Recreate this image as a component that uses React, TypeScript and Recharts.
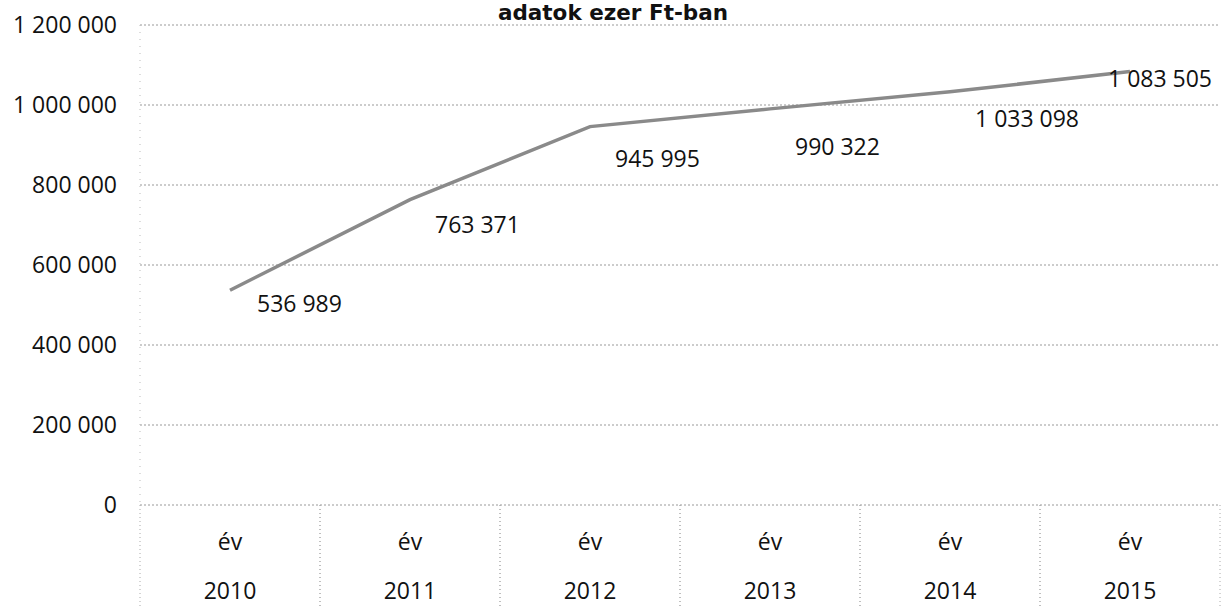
import React from 'react';
import { LineChart, Line, XAxis, YAxis, CartesianGrid, LabelList } from 'recharts';

const years = ['2010', '2011', '2012', '2013', '2014', '2015'];
const rowLabel = 'év';
const values = [536989, 763371, 945995, 990322, 1033098, 1083505];
const yTicks = [0, 200000, 400000, 600000, 800000, 1000000, 1200000];
const title = 'adatok ezer Ft-ban';

const data = years.map((y, i) => ({ year: y, value: values[i] }));

const W = 1221;
const H = 607;
const LEFT = 140;
const RIGHT = 1;
const FONT = '"Open Sans", sans-serif';
const FS = 23;

// label placement offsets (style), per point: [dx, dy]
const labelOffsets: [number, number][] = [
  [27, 22],
  [25, 33],
  [25, 40],
  [25, 46],
  [25, 35],
  [-22, 15],
];

const fmt = (v: number) => String(v).replace(/\B(?=(\d{3})+(?!\d))/g, ' ');

const bandW = (W - LEFT - RIGHT) / years.length;

const XTick = (props: any) => {
  const { x, y, payload } = props;
  const sep = { stroke: '#aaa', strokeWidth: 1, strokeDasharray: '1 3' };
  return (
    <g>
      <line x1={x - bandW / 2} x2={x - bandW / 2} y1={y} y2={H} {...sep} />
      <line x1={x + bandW / 2} x2={x + bandW / 2} y1={y} y2={H} {...sep} />
      <text x={x} y={y + 45} textAnchor="middle" fontFamily={FONT} fontSize={FS} fill="#111">
        {rowLabel}
      </text>
      <text x={x} y={y + 94} textAnchor="middle" fontFamily={FONT} fontSize={FS} fill="#111">
        {payload.value}
      </text>
    </g>
  );
};

const ValueLabel = (props: any) => {
  const { x, y, value, index } = props;
  const [dx, dy] = labelOffsets[index] || [0, 0];
  return (
    <text x={x + dx} y={y + dy} textAnchor="start" fontFamily={FONT} fontSize={FS} fill="#111">
      {fmt(value)}
    </text>
  );
};

export default function App() {
  return (
    <div style={{ position: 'absolute', left: 0, top: 0, width: W, height: H, background: '#fff' }}>
      <LineChart width={W} height={H} data={data} margin={{ top: 25, right: RIGHT, bottom: 0, left: 0 }}>
        <text
          x={613}
          y={20}
          textAnchor="middle"
          fontFamily='"DejaVu Sans", sans-serif'
          fontWeight="bold"
          fontSize={21.5}
          fill="#111"
        >
          {title}
        </text>
        <CartesianGrid vertical={false} stroke="#999" strokeDasharray="2 2" />
        <XAxis
          dataKey="year"
          axisLine={false}
          tickLine={false}
          tickSize={0}
          tickMargin={0}
          height={102}
          tick={<XTick />}
          interval={0}
          padding={{ left: bandW / 2, right: bandW / 2 }}
        />
        <YAxis
          width={LEFT}
          domain={[0, 1200000]}
          ticks={yTicks}
          tickFormatter={fmt}
          axisLine={{ stroke: '#bbb', strokeDasharray: '1 6' }}
          tickLine={false}
          tickSize={0}
          tickMargin={23}
          tick={{ fontFamily: FONT, fontSize: FS, fill: '#111' }}
        />
        <Line
          type="linear"
          dataKey="value"
          stroke="#8a8a8a"
          strokeWidth={3.5}
          dot={false}
          isAnimationActive={false}
        >
          <LabelList dataKey="value" content={<ValueLabel />} />
        </Line>
      </LineChart>
    </div>
  );
}
